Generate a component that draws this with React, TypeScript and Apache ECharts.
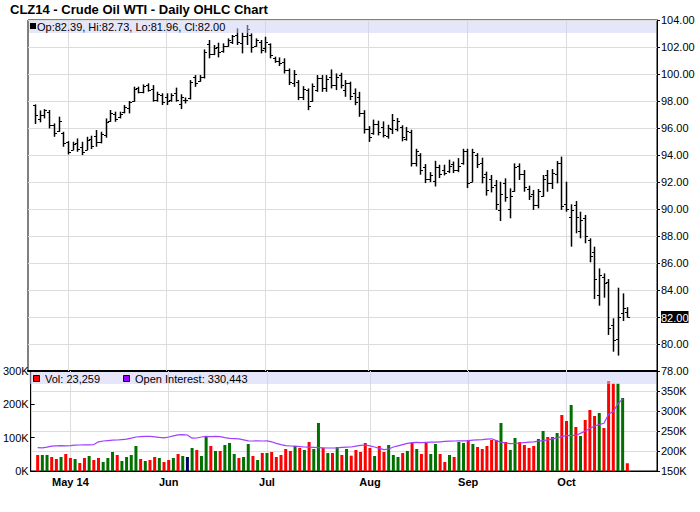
import React, { useEffect, useRef } from 'react';
import * as echarts from 'echarts';

// Daily OHLC, Apr 22 2014 .. Oct 20 2014 (trading-day index 0..126)
const opens = [
  97.70, 96.70, 96.95, 97.20, 96.25, 95.80, 95.65, 94.95, 94.40, 94.90,
  94.60, 94.40, 95.20, 95.40, 94.95, 95.45, 96.55, 97.05, 96.80, 97.15,
  97.50, 98.00, 98.95, 98.65, 99.15, 98.90, 98.10, 98.45, 98.30, 98.05,
  98.60, 97.80, 98.05, 98.20, 99.80, 99.50, 99.80, 102.20, 101.50, 102.00,
  101.70, 102.10, 102.40, 102.90, 102.30, 102.80, 102.90, 102.10, 102.40, 101.90,
  102.20, 101.20, 101.00, 100.90, 100.30, 99.30, 99.40, 98.30, 98.80, 98.00,
  98.80, 99.70, 99.00, 99.80, 99.20, 99.90, 98.80, 99.30, 98.60, 98.30,
  97.10, 95.90, 95.60, 96.30, 96.10, 95.40, 95.90, 95.90, 96.10, 95.20,
  95.70, 93.40, 94.00, 93.10, 92.20, 92.10, 93.10, 92.90, 92.80, 93.30,
  92.90, 93.40, 94.30, 92.00, 94.00, 93.40, 92.60, 92.20, 91.80, 89.90,
  91.90, 90.00, 91.30, 93.20, 92.60, 91.50, 91.10, 90.30, 91.00, 92.50,
  91.90, 92.60, 93.40, 90.40, 89.40, 90.30, 88.40, 89.30, 87.70, 86.80,
  83.60, 85.00, 84.60, 81.40, 80.40, 82.30, 82.39,
];
const highs = [
  97.75, 97.30, 97.40, 97.33, 96.34, 96.84, 95.72, 95.03, 94.98, 95.23,
  94.98, 95.35, 95.43, 95.85, 95.72, 96.71, 97.33, 97.21, 97.21, 97.70,
  98.00, 99.06, 99.06, 99.23, 99.31, 99.18, 98.69, 98.57, 98.57, 98.57,
  98.99, 98.50, 98.26, 99.55, 99.92, 99.92, 101.82, 102.52, 102.15, 102.32,
  102.27, 102.64, 102.89, 103.38, 103.06, 103.63, 103.01, 102.64, 102.52, 102.76,
  102.27, 101.28, 101.23, 101.16, 100.41, 100.29, 99.55, 99.10, 98.93, 99.30,
  99.92, 99.92, 99.92, 100.34, 100.04, 100.09, 99.55, 99.43, 98.93, 98.68,
  97.32, 96.14, 96.62, 96.54, 96.49, 96.24, 97.04, 96.74, 96.20, 96.07,
  95.87, 94.46, 94.14, 93.33, 92.73, 93.57, 93.28, 93.28, 93.65, 93.52,
  93.77, 94.46, 94.46, 94.46, 94.14, 93.80, 92.77, 92.52, 92.15, 92.02,
  92.27, 91.53, 93.38, 93.38, 92.89, 91.73, 91.41, 91.48, 92.52, 92.89,
  92.96, 93.56, 93.88, 92.02, 90.35, 90.59, 89.80, 89.56, 87.83, 87.21,
  85.60, 85.23, 84.81, 81.90, 84.17, 83.75, 82.73,
];
const lows = [
  96.30, 96.42, 96.71, 95.97, 95.35, 95.72, 94.61, 94.04, 94.36, 94.24,
  93.99, 94.36, 94.44, 94.61, 94.86, 95.28, 96.46, 96.46, 96.71, 97.08,
  97.08, 97.95, 98.57, 98.57, 98.69, 97.95, 97.95, 97.70, 97.70, 97.95,
  97.95, 97.40, 97.82, 98.11, 99.05, 99.43, 99.67, 101.16, 101.40, 101.23,
  101.58, 102.02, 102.22, 102.15, 101.53, 102.15, 101.58, 102.02, 101.53, 101.58,
  101.16, 100.83, 100.59, 100.04, 99.18, 99.05, 98.07, 98.07, 97.32, 97.94,
  98.68, 98.68, 98.68, 98.93, 98.81, 98.93, 98.31, 98.07, 97.69, 96.83,
  95.59, 94.97, 95.50, 95.45, 95.30, 95.21, 95.55, 95.75, 95.01, 95.06,
  93.15, 93.15, 92.54, 91.92, 91.99, 91.67, 92.29, 92.49, 92.66, 92.66,
  92.73, 93.28, 91.55, 91.99, 93.03, 91.90, 90.99, 91.23, 89.93, 89.11,
  90.54, 89.31, 91.28, 92.15, 91.28, 90.67, 89.93, 90.05, 90.91, 91.28,
  91.48, 91.90, 89.93, 89.80, 87.21, 88.20, 87.83, 87.46, 86.05, 83.33,
  82.84, 83.43, 80.67, 79.43, 79.14, 81.70, 81.96,
];
const closes = [
  96.95, 96.98, 97.30, 96.20, 95.60, 96.50, 94.90, 94.20, 94.80, 94.45,
  94.20, 95.10, 94.70, 94.95, 95.55, 96.45, 97.10, 96.70, 97.05, 97.55,
  97.95, 98.90, 98.65, 99.10, 98.85, 98.10, 98.50, 97.90, 98.00, 98.45,
  98.10, 98.30, 98.05, 99.40, 99.30, 99.80, 101.60, 101.50, 101.95, 101.60,
  102.10, 102.50, 102.80, 102.40, 102.85, 103.30, 102.00, 102.50, 101.80, 102.40,
  101.40, 100.95, 100.80, 100.30, 99.40, 100.00, 98.30, 98.90, 97.60, 99.10,
  99.70, 99.00, 99.60, 99.20, 99.80, 99.20, 99.30, 98.40, 97.90, 97.10,
  95.90, 95.30, 96.30, 95.70, 95.50, 96.00, 96.60, 96.50, 95.30, 95.80,
  93.40, 94.30, 92.90, 92.20, 92.50, 93.10, 92.60, 92.70, 93.20, 92.90,
  93.20, 94.30, 91.90, 94.20, 93.30, 92.40, 91.40, 91.60, 90.40, 91.10,
  90.90, 91.00, 93.10, 92.60, 91.60, 91.00, 90.30, 91.30, 92.20, 91.90,
  92.70, 93.40, 90.20, 90.00, 89.90, 89.40, 89.20, 88.00, 86.50, 84.80,
  85.10, 84.50, 81.20, 80.30, 82.00, 82.70, 82.00,
];
const volumes = [
  48000, 48000, 48000, 42000, 36000, 42000, 51000, 39000, 36000, 24000,
  39000, 45000, 33000, 39000, 27000, 39000, 57000, 48000, 30000, 42000,
  48000, 75000, 36000, 30000, 33000, 42000, 39000, 27000, 33000, 39000,
  51000, 45000, 42000, 69000, 63000, 45000, 102000, 75000, 60000, 60000,
  78000, 84000, 51000, 39000, 42000, 81000, 45000, 33000, 54000, 54000,
  57000, 42000, 48000, 66000, 60000, 75000, 69000, 63000, 87000, 66000,
  144000, 69000, 54000, 54000, 72000, 48000, 66000, 46000, 63000, 57000,
  84000, 69000, 45000, 75000, 57000, 78000, 48000, 42000, 54000, 60000,
  84000, 66000, 51000, 84000, 51000, 81000, 51000, 27000, 48000, 42000,
  87000, 84000, 93000, 81000, 72000, 66000, 75000, 93000, 93000, 144000,
  87000, 63000, 99000, 87000, 78000, 69000, 75000, 96000, 120000, 102000,
  102000, 114000, 168000, 150000, 198000, 132000, 105000, 153000, 183000, 165000,
  174000, 129000, 270000, 262000, 262000, 219000, 23259,
];
const openInterest = [
  208500, 208000, 209500, 212000, 213000, 213500, 213000, 213500, 214500, 215000,
  215500, 215500, 216000, 223000, 225000, 226000, 227000, 227500, 228500, 229500,
  232000, 235000, 236000, 236500, 236500, 235500, 234000, 233000, 235000, 238000,
  240500, 241000, 240000, 232000, 232500, 235000, 236500, 236000, 236500, 236000,
  233500, 231500, 231000, 230500, 228000, 225500, 225000, 225500, 225000, 225500,
  223000, 219000, 216000, 213500, 212500, 212000, 211000, 210000, 209500, 209000,
  208500, 208000, 207500, 207500, 208000, 209000, 209500, 210000, 212000, 214000,
  215000, 213000, 210000, 206500, 203500, 205000, 210000, 213000, 216000, 219000,
  221000, 221500, 221000, 221500, 222000, 222000, 223000, 224000, 224500, 225000,
  225500, 225500, 226000, 227000, 228000, 228500, 229500, 230500, 226000, 222000,
  220000, 218500, 219000, 220000, 221000, 222000, 223000, 224500, 226000, 228000,
  230500, 233000, 236000, 239000, 238500, 239500, 244000, 250000, 256500, 262500,
  266000, 269500, 292000, 298500, 318000, 330443,
];
// first trading day of each month (index) and its label
const monthStarts = [7, 28, 49, 71, 92, 113];
const monthLabels = ['May 14', 'Jun', 'Jul', 'Aug', 'Sep', 'Oct'];

const FONT = 'Liberation Sans';
const GRID_COLOR = '#dcdcdc';
const UP = '#007000';
const DOWN = '#ff0000';
const FLAT = '#000066';

export default function App() {
  const ref = useRef<HTMLDivElement>(null);

  useEffect(() => {
    if (!ref.current) return;
    const chart = echarts.init(ref.current, undefined, { renderer: 'svg' });
    const n = closes.length;
    const last = n - 1;
    const ohlc = closes.map((c, i) => [i, opens[i], highs[i], lows[i], c]);
    const volData = volumes.map((v, i) => ({
      value: [i, v],
      itemStyle: { color: closes[i] > opens[i] ? UP : closes[i] < opens[i] ? DOWN : FLAT },
    }));
    const oiData = openInterest.map((v, i) => [i, v]);
    const lastClose = closes[last];
    const fmt = (v: number) => Math.round(v).toLocaleString('en-US');
    const xMin = -1.49;
    const xMax = 132.34;

    const vLines = {
      silent: true,
      z: 1,
      symbol: ['none', 'none'],
      label: { show: false },
      emphasis: { disabled: true },
      lineStyle: { color: GRID_COLOR, width: 1, type: 'solid' },
      data: monthStarts.map((v) => ({ xAxis: v })),
    };

    const option: any = {
      animation: false,
      backgroundColor: '#ffffff',
      textStyle: { fontFamily: FONT },
      title: {
        text: 'CLZ14 - Crude Oil WTI - Daily OHLC Chart',
        left: 10,
        top: 3,
        padding: 0,
        textStyle: { fontSize: 13, fontWeight: 'bold', fontFamily: FONT, color: '#000' },
      },
      grid: [
        { left: 28, right: 43, top: 20, height: 351, show: true, borderColor: '#000', borderWidth: 1 },
        { left: 28, right: 43, top: 371, height: 100, show: true, borderColor: '#000', borderWidth: 1 },
      ],
      xAxis: [
        {
          type: 'value', gridIndex: 0, min: xMin, max: xMax,
          axisLine: { show: true, onZero: false, lineStyle: { color: '#000', width: 2 } },
          axisTick: { show: false }, axisLabel: { show: false }, splitLine: { show: false },
        },
        {
          type: 'value', gridIndex: 1, min: xMin, max: xMax,
          axisLine: { show: true, onZero: false, lineStyle: { color: '#000', width: 1 } },
          axisTick: { show: false },
          splitLine: { show: false },
          axisLabel: {
            customValues: monthStarts,
            formatter: (v: number) => monthLabels[monthStarts.indexOf(Math.round(v))] ?? '',
            fontSize: 11, fontWeight: 'bold', color: '#000', fontFamily: FONT, margin: 5,
          },
        },
      ],
      yAxis: [
        {
          type: 'value', gridIndex: 0, position: 'right', min: 78, max: 104, interval: 2,
          axisLine: { show: true, onZero: false, lineStyle: { color: '#000' } },
          axisTick: { show: true, length: 3, lineStyle: { color: '#000' } },
          splitLine: { show: true, lineStyle: { color: GRID_COLOR, width: 1 } },
          axisLabel: {
            fontSize: 11, color: '#000', fontFamily: FONT, margin: 4,
            formatter: (v: number) => (Math.abs(v - lastClose) < 1e-9 ? `{hl|${v.toFixed(2)}}` : v.toFixed(2)),
            rich: { hl: { backgroundColor: '#000', color: '#fff', fontSize: 11, fontFamily: FONT, padding: [1, 0, 0, 0] } },
          },
        },
        {
          type: 'value', gridIndex: 1, position: 'left', min: 0, max: 300000, interval: 100000,
          axisLine: { show: true, onZero: false, lineStyle: { color: '#000' } },
          axisTick: { show: true, inside: true, length: 4, lineStyle: { color: '#000' } },
          splitLine: { show: false },
          axisLabel: { fontSize: 11, color: '#000', fontFamily: FONT, margin: 2, formatter: (v: number) => `${v / 1000}K` },
        },
        {
          type: 'value', gridIndex: 1, position: 'right', min: 150000, max: 400000, interval: 50000,
          axisLine: { show: true, onZero: false, lineStyle: { color: '#000' } },
          axisTick: { show: true, length: 3, lineStyle: { color: '#000' } },
          splitLine: { show: true, lineStyle: { color: GRID_COLOR, width: 1 } },
          axisLabel: {
            fontSize: 11, color: '#000', fontFamily: FONT, margin: 4, showMaxLabel: false,
            formatter: (v: number) => `${v / 1000}K`,
          },
        },
      ],
      series: [
        {
          type: 'scatter', xAxisIndex: 0, yAxisIndex: 0, z: 1, silent: true,
          data: closes.map((c, i) => [i, c]), symbolSize: 0,
          itemStyle: { opacity: 0 },
          markLine: vLines,
        },
        {
          type: 'custom', xAxisIndex: 0, yAxisIndex: 0, z: 3, clip: true,
          data: ohlc,
          encode: { x: 0, y: [1, 2, 3, 4] },
          renderItem: (_params: any, api: any) => {
            const i = api.value(0);
            const ph = api.coord([i, api.value(2)]);
            const pl = api.coord([i, api.value(3)]);
            const po = api.coord([i, api.value(1)]);
            const pc = api.coord([i, api.value(4)]);
            const x = Math.round(ph[0]) + 0.5;
            const yo = Math.round(po[1]) + 0.5;
            const yc = Math.round(pc[1]) + 0.5;
            return {
              type: 'group',
              children: [
                { type: 'line', shape: { x1: x, y1: ph[1], x2: x, y2: pl[1] }, style: { stroke: '#000', lineWidth: 1.5 } },
                { type: 'line', shape: { x1: x - 2.5, y1: yo, x2: x, y2: yo }, style: { stroke: '#000', lineWidth: 1 } },
                { type: 'line', shape: { x1: x, y1: yc, x2: x + 2.5, y2: yc }, style: { stroke: '#000', lineWidth: 1 } },
              ],
            };
          },
        },
        {
          type: 'bar', xAxisIndex: 1, yAxisIndex: 1, z: 2, barWidth: 3,
          data: volData,
          markLine: vLines,
        },
        {
          type: 'line', xAxisIndex: 1, yAxisIndex: 2, z: 4,
          data: oiData, showSymbol: false, smooth: false,
          lineStyle: { color: '#a040ff', width: 1.2 },
        },
      ],
      graphic: [
        { type: 'rect', z: 100, shape: { x: 29, y: 21, width: 627, height: 12 }, style: { fill: 'rgba(205,205,245,0.5)' } },
        { type: 'rect', z: 100, shape: { x: 29, y: 372, width: 627, height: 12 }, style: { fill: 'rgba(205,205,245,0.5)' } },
        { type: 'rect', z: 110, shape: { x: 30, y: 23, width: 6, height: 6 }, style: { fill: '#000' } },
        {
          type: 'text', z: 110, x: 37, y: 27,
          style: {
            text: `Op:${opens[last].toFixed(2)}, Hi:${highs[last].toFixed(2)}, Lo:${lows[last].toFixed(2)}, Cl:${closes[last].toFixed(2)}`,
            fontSize: 11, fontFamily: FONT, fill: '#000', verticalAlign: 'middle',
          },
        },
        { type: 'rect', z: 110, shape: { x: 33.5, y: 375.5, width: 6, height: 6 }, style: { fill: DOWN, stroke: '#000', lineWidth: 1 } },
        {
          type: 'text', z: 110, x: 45, y: 379,
          style: { text: `Vol: ${fmt(volumes[last])}`, fontSize: 11, fontFamily: FONT, fill: '#000', verticalAlign: 'middle' },
        },
        { type: 'rect', z: 110, shape: { x: 123.5, y: 375.5, width: 6, height: 6 }, style: { fill: '#9900ff', stroke: '#000', lineWidth: 1 } },
        {
          type: 'text', z: 110, x: 135, y: 379,
          style: {
            text: `Open Interest: ${fmt(openInterest[openInterest.length - 1])}`,
            fontSize: 11, fontFamily: FONT, fill: '#000', verticalAlign: 'middle',
          },
        },
      ],
    };

    chart.setOption(option);
    return () => chart.dispose();
  }, []);

  return (
    <div
      ref={ref}
      style={{ position: 'fixed', left: 0, top: 0, width: 700, height: 512, background: '#fff' }}
    />
  );
}
